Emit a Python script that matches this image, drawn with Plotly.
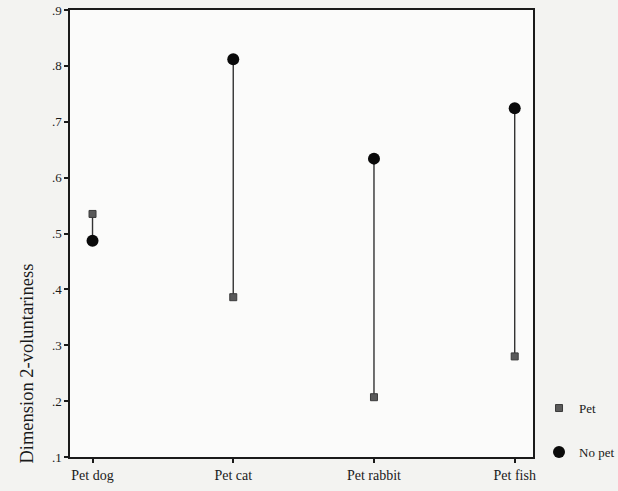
import plotly.graph_objects as go

# Mean scores on dimension 2 by pet type and ownership
categories = ["Pet dog", "Pet cat", "Pet rabbit", "Pet fish"]
pet_values = [0.535, 0.386, 0.207, 0.280]
no_pet_values = [0.487, 0.812, 0.634, 0.724]
y_tick_values = [0.1, 0.2, 0.3, 0.4, 0.5, 0.6, 0.7, 0.8, 0.9]
y_tick_labels = [".1", ".2", ".3", ".4", ".5", ".6", ".7", ".8", ".9"]
y_title = "Dimension 2-voluntariness"

serif = "Liberation Serif, Times New Roman, serif"
ink = "#1a1a1a"

# vertical connectors between the two group means of each category
line_x, line_y = [], []
for i, cat in enumerate(categories):
    line_x += [cat, cat, None]
    line_y += [pet_values[i], no_pet_values[i], None]

fig = go.Figure()
fig.add_trace(go.Scatter(
    x=line_x, y=line_y, mode="lines",
    line=dict(color="#333333", width=1.4),
    showlegend=False, hoverinfo="skip",
))
fig.add_trace(go.Scatter(
    x=categories, y=pet_values, mode="markers", name="Pet",
    legendgroup="pet",
    marker=dict(symbol="square", size=7, color="#5a5a5a",
                line=dict(color="#3a3a3a", width=1)),
))
fig.add_trace(go.Scatter(
    x=categories, y=no_pet_values, mode="markers", name="No pet",
    legendgroup="nopet",
    marker=dict(symbol="circle", size=12, color="#0a0a0a"),
))

# rotated axis title, set low along the left side
fig.add_annotation(
    text=y_title, textangle=-90,
    xref="paper", yref="paper", x=-0.092, y=0.21,
    xanchor="center", yanchor="middle", showarrow=False,
    font=dict(family=serif, size=18.5, color=ink),
)

fig.update_layout(
    width=618, height=491,
    margin=dict(l=70, r=85, t=10, b=34, autoexpand=False),
    paper_bgcolor="#f3f3f1",
    plot_bgcolor="#fbfbfa",
    font=dict(family=serif, size=13, color=ink),
    legend=dict(
        x=1.013, xanchor="left", y=0.143, yanchor="top",
        bgcolor="rgba(0,0,0,0)",
        font=dict(family=serif, size=13, color=ink),
        tracegroupgap=24,
        itemwidth=30,
    ),
    xaxis=dict(
        type="category",
        range=[-0.16, 3.13],
        showgrid=False, zeroline=False,
        showline=True, linecolor=ink, linewidth=1.5, mirror=True,
        ticks="outside", ticklen=4, tickwidth=2, tickcolor=ink,
        tickfont=dict(family=serif, size=14, color=ink),
    ),
    yaxis=dict(
        range=[0.1, 0.9],
        tickvals=y_tick_values, ticktext=y_tick_labels,
        showgrid=False, zeroline=False,
        showline=True, linecolor=ink, linewidth=1.5, mirror=True,
        ticks="outside", ticklen=4, tickwidth=2, tickcolor=ink,
        tickfont=dict(family=serif, size=13, color=ink),
    ),
)

fig.write_html("out.html")
